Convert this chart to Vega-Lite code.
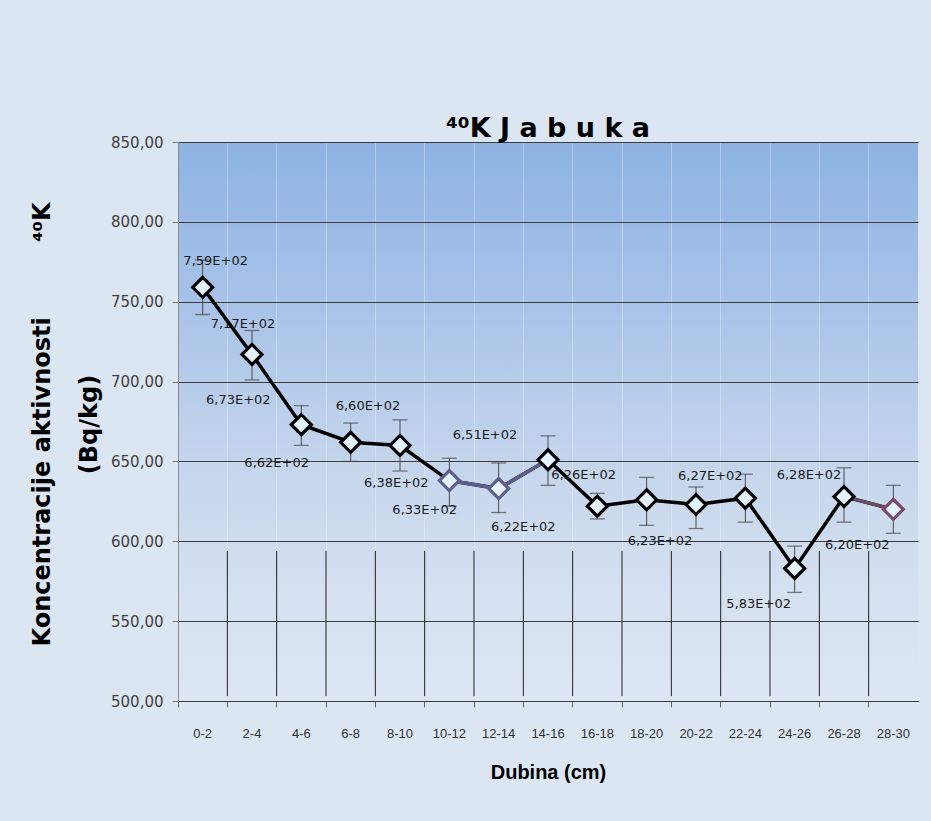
{
  "$schema": "https://vega.github.io/schema/vega-lite/v6.json",
  "autosize": "none",
  "width": 740,
  "height": 559,
  "padding": {"left": 178, "top": 142, "right": 13, "bottom": 120},
  "background": "#dce6f2",
  "config": {
    "view": {
      "stroke": null,
      "fill": {
        "gradient": "linear",
        "x1": 0, "y1": 0, "x2": 0, "y2": 1,
        "stops": [
          {"offset": 0, "color": "#8db3e3"},
          {"offset": 0.3, "color": "#a9c3e8"},
          {"offset": 0.55, "color": "#c2d4ec"},
          {"offset": 0.8, "color": "#d5e0f0"},
          {"offset": 1, "color": "#dde6f3"}
        ]
      }
    },
    "font": "Liberation Sans"
  },
  "title": {
    "text": "⁴⁰K J a b u k a",
    "font": "DejaVu Sans",
    "fontSize": 27,
    "fontWeight": "bold",
    "color": "#000000",
    "offset": -8,
    "anchor": "middle"
  },
  "data": {
    "values": [
      {"depth": "0-2", "value": 759, "lo": 742, "hi": 776, "label": "7,59E+02"},
      {"depth": "2-4", "value": 717, "lo": 701, "hi": 732, "label": "7,17E+02"},
      {"depth": "4-6", "value": 673, "lo": 660, "hi": 685, "label": "6,73E+02"},
      {"depth": "6-8", "value": 662, "lo": 650, "hi": 674, "label": "6,62E+02"},
      {"depth": "8-10", "value": 660, "lo": 644, "hi": 676, "label": "6,60E+02"},
      {"depth": "10-12", "value": 638, "lo": 622, "hi": 652, "label": "6,38E+02"},
      {"depth": "12-14", "value": 633, "lo": 618, "hi": 649, "label": "6,33E+02"},
      {"depth": "14-16", "value": 651, "lo": 635, "hi": 666, "label": "6,51E+02"},
      {"depth": "16-18", "value": 622, "lo": 614, "hi": 630, "label": "6,22E+02"},
      {"depth": "18-20", "value": 626, "lo": 610, "hi": 640, "label": "6,26E+02"},
      {"depth": "20-22", "value": 623, "lo": 608, "hi": 634, "label": "6,23E+02"},
      {"depth": "22-24", "value": 627, "lo": 612, "hi": 642, "label": "6,27E+02"},
      {"depth": "24-26", "value": 583, "lo": 568, "hi": 597, "label": "5,83E+02"},
      {"depth": "26-28", "value": 628, "lo": 612, "hi": 646, "label": "6,28E+02"},
      {"depth": "28-30", "value": 620, "lo": 605, "hi": 635, "label": "6,20E+02"}
    ]
  },
  "encoding": {
    "x": {
      "field": "depth",
      "type": "ordinal",
      "sort": null,
      "scale": {
        "domain": ["0-2", "2-4", "4-6", "6-8", "8-10", "10-12", "12-14", "14-16", "16-18", "18-20", "20-22", "22-24", "24-26", "26-28", "28-30"],
        "paddingInner": 0,
        "paddingOuter": 0
      },
      "axis": {
        "title": "Dubina (cm)",
        "titleFont": "Liberation Sans",
        "titleFontSize": 20,
        "titleFontWeight": "bold",
        "titleColor": "#000000",
        "titlePadding": 22,
        "labelAngle": 0,
        "labelFont": "Liberation Sans Narrow, Liberation Sans",
        "labelFontSize": 13,
        "labelColor": "#333333",
        "labelPadding": 20,
        "bandPosition": 0,
        "domainColor": "#3a3a3a",
        "tickColor": "#666666",
        "tickSize": 6,
        "grid": true,
        "gridColor": "#ffffff",
        "gridOpacity": 0.3
      }
    },
    "y": {
      "field": "value",
      "type": "quantitative",
      "scale": {"domain": [500, 850], "nice": false, "zero": false},
      "axis": {
        "values": [500, 550, 600, 650, 700, 750, 800, 850],
        "labelExpr": "replace(format(datum.value, '.2f'), '.', ',')",
        "labelFont": "DejaVu Sans",
        "labelFontSize": 15,
        "labelColor": "#404040",
        "labelPadding": 9,
        "tickColor": "#777777",
        "tickSize": 6,
        "domainColor": "#8c8c8c",
        "grid": true,
        "gridColor": "#3c3c3c",
        "gridWidth": 1,
        "title": ["Koncentracije aktivnosti\u00a0\u00a0\u00a0\u00a0\u00a0\u00a0\u00a0\u00a0\u00a0⁴⁰K", "(Bq/kg)"],
        "titleFont": "DejaVu Sans",
        "titleFontSize": 24,
        "titleFontWeight": "bold",
        "titleColor": "#000000",
        "titleAngle": -90,
        "titleBaseline": "bottom",
        "titleAlign": "center",
        "titleLineHeight": 47,
        "titleX": -124,
        "titleY": 282
      }
    }
  },
  "layer": [
    {
      "transform": [{"filter": "datum.depth !== '0-2'"}],
      "mark": {"type": "rule", "color": "#1e1e1e", "strokeWidth": 1},
      "encoding": {
        "x": {"field": "depth", "type": "ordinal", "sort": null, "bandPosition": 0},
        "y": {"datum": 594, "type": "quantitative"},
        "y2": {"datum": 503}
      }
    },
    {
      "mark": {"type": "rule", "color": "#4a4a4a", "strokeWidth": 1},
      "encoding": {
        "y": {"field": "lo", "type": "quantitative"},
        "y2": {"field": "hi"}
      }
    },
    {
      "mark": {"type": "tick", "color": "#4a4a4a", "size": 15, "thickness": 1.3},
      "encoding": {"y": {"field": "lo", "type": "quantitative"}}
    },
    {
      "mark": {"type": "tick", "color": "#4a4a4a", "size": 15, "thickness": 1.3},
      "encoding": {"y": {"field": "hi", "type": "quantitative"}}
    },
    {
      "mark": {"type": "line", "color": "#000000", "strokeWidth": 3.5},
      "encoding": {}
    },
    {
      "transform": [{"filter": {"field": "depth", "oneOf": ["10-12", "12-14", "14-16"]}}],
      "mark": {"type": "line", "color": "#5e5e8c", "strokeWidth": 3.5},
      "encoding": {}
    },
    {
      "transform": [{"filter": {"field": "depth", "oneOf": ["26-28", "28-30"]}}],
      "mark": {"type": "line", "color": "#6e4c6c", "strokeWidth": 3},
      "encoding": {}
    },
    {
      "mark": {"type": "point", "shape": "diamond", "size": 400, "filled": false, "fill": "#e3f1fb", "fillOpacity": 1, "strokeWidth": 3.2, "opacity": 1},
      "encoding": {
        "stroke": {
          "condition": [
            {"test": "datum.depth === '10-12' || datum.depth === '12-14'", "value": "#5e5e8c"},
            {"test": "datum.depth === '28-30'", "value": "#7a4a72"}
          ],
          "value": "#000000"
        }
      }
    },
    {
      "transform": [{"filter": {"field": "depth", "oneOf": ["0-2"]}}],
      "mark": {"type": "text", "dx": 13, "dy": -26, "font": "DejaVu Sans", "fontSize": 13, "color": "#1a1a1a"},
      "encoding": {"text": {"field": "label"}}
    },
    {
      "transform": [{"filter": {"field": "depth", "oneOf": ["2-4"]}}],
      "mark": {"type": "text", "dx": -9, "dy": -30, "font": "DejaVu Sans", "fontSize": 13, "color": "#1a1a1a"},
      "encoding": {"text": {"field": "label"}}
    },
    {
      "transform": [{"filter": {"field": "depth", "oneOf": ["8-10"]}}],
      "mark": {"type": "text", "dx": -32, "dy": -39, "font": "DejaVu Sans", "fontSize": 13, "color": "#1a1a1a"},
      "encoding": {"text": {"field": "label"}}
    },
    {
      "transform": [{"filter": {"field": "depth", "oneOf": ["4-6", "14-16", "18-20"]}}],
      "mark": {"type": "text", "dx": -63, "dy": -25, "font": "DejaVu Sans", "fontSize": 13, "color": "#1a1a1a"},
      "encoding": {"text": {"field": "label"}}
    },
    {
      "transform": [{"filter": {"field": "depth", "oneOf": ["22-24", "26-28"]}}],
      "mark": {"type": "text", "dx": -35, "dy": -22, "font": "DejaVu Sans", "fontSize": 13, "color": "#1a1a1a"},
      "encoding": {"text": {"field": "label"}}
    },
    {
      "transform": [{"filter": {"field": "depth", "oneOf": ["6-8", "12-14", "16-18"]}}],
      "mark": {"type": "text", "dx": -74, "dy": 21, "font": "DejaVu Sans", "fontSize": 13, "color": "#1a1a1a"},
      "encoding": {"text": {"field": "label"}}
    },
    {
      "transform": [{"filter": {"field": "depth", "oneOf": ["20-22", "24-26", "28-30"]}}],
      "mark": {"type": "text", "dx": -36, "dy": 36, "font": "DejaVu Sans", "fontSize": 13, "color": "#1a1a1a"},
      "encoding": {"text": {"field": "label"}}
    },
    {
      "transform": [{"filter": {"field": "depth", "oneOf": ["10-12"]}}],
      "mark": {"type": "text", "dx": -53, "dy": 2, "font": "DejaVu Sans", "fontSize": 13, "color": "#1a1a1a"},
      "encoding": {"text": {"field": "label"}}
    }
  ]
}
